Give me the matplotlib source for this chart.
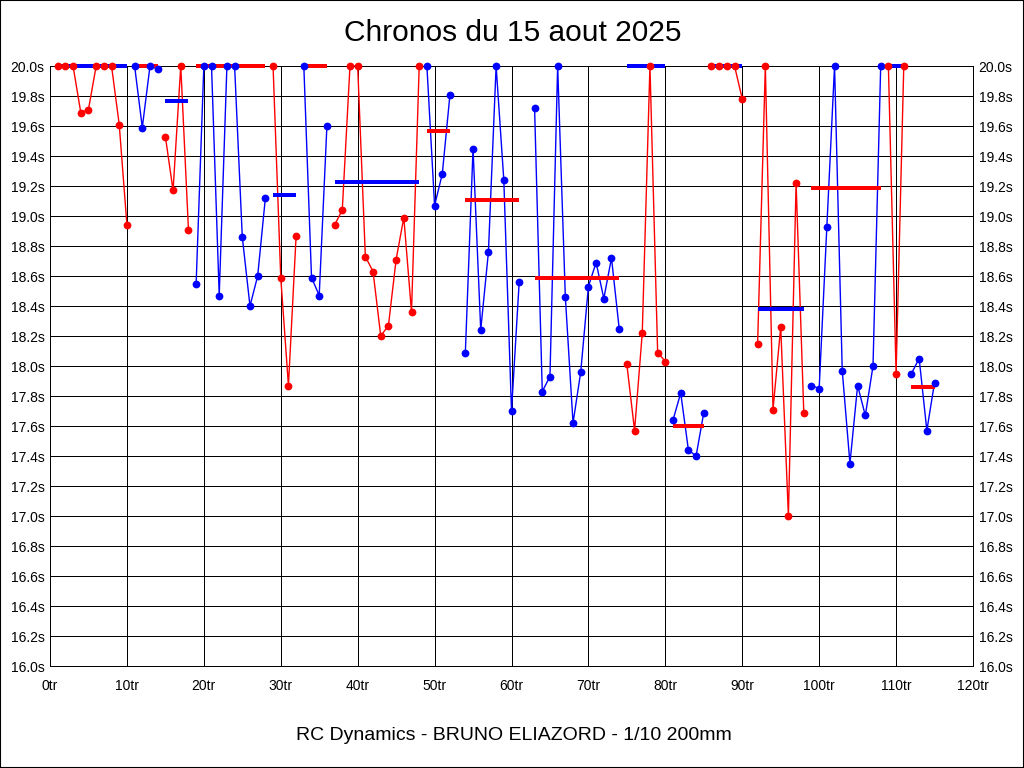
import matplotlib
matplotlib.use("Agg")
import matplotlib.pyplot as plt
from matplotlib.patches import Rectangle

plt.rcParams['font.family'] = ['Liberation Sans', 'DejaVu Sans']

# one entry per session: first lap, lap times (s, capped at 20), colour, mean line
session_start = [1, 11, 15, 19, 29, 33, 37, 49, 54, 63, 75, 81, 86, 92, 99, 109, 112]
session_times = [
    [20.0, 20.0, 20.0, 19.69, 19.71, 20.0, 20.0, 20.0, 19.61, 18.94],
    [20.0, 19.59, 20.0, 19.98],
    [19.53, 19.17, 20.0, 18.91],
    [18.55, 20.0, 20.0, 18.47, 20.0, 20.0, 18.86, 18.40, 18.60, 19.12],
    [20.0, 18.59, 17.87, 18.87],
    [20.0, 18.59, 18.47, 19.60],
    [18.94, 19.04, 20.0, 20.0, 18.73, 18.63, 18.20, 18.27, 18.71, 18.99, 18.36, 20.0],
    [20.0, 19.07, 19.28, 19.81],
    [18.09, 19.45, 18.24, 18.76, 20.0, 19.24, 17.70, 18.56],
    [19.72, 17.83, 17.93, 20.0, 18.46, 17.62, 17.96, 18.53, 18.69, 18.45, 18.72, 18.25],
    [18.01, 17.57, 18.22, 20.0, 18.09, 18.03],
    [17.64, 17.82, 17.44, 17.40, 17.69],
    [20.0, 20.0, 20.0, 20.0, 19.78],
    [18.15, 20.0, 17.71, 18.26, 17.00, 19.22, 17.69],
    [17.87, 17.85, 18.93, 20.0, 17.97, 17.35, 17.87, 17.67, 18.00, 20.0],
    [20.0, 17.95, 20.0],
    [17.95, 18.05, 17.57, 17.89],
]
session_colors = ['red', 'blue', 'red', 'blue', 'red', 'blue', 'red', 'blue', 'blue',
                  'blue', 'red', 'blue', 'red', 'red', 'blue', 'red', 'blue']
session_means = [20.0, 20.0, 19.77, 20.0, 19.14, 20.0, 19.23, 19.57, 19.11,
                 18.59, 20.0, 17.60, 20.0, 18.38, 19.19, 20.0, 17.86]

x_ticks = list(range(0, 121, 10))
y_ticks = [16.0 + 0.2 * i for i in range(21)]

fig = plt.figure(figsize=(10.24, 7.68), dpi=100, facecolor='white')
ax = fig.add_axes([50 / 1024, 1 - 666 / 768, 923 / 1024, 600 / 768])

other = {'red': 'blue', 'blue': 'red'}
for start, times, col, mean in zip(session_start, session_times, session_colors, session_means):
    laps = list(range(start, start + len(times)))
    ax.plot(laps, times, color=col, lw=1.0, zorder=2, clip_on=False)
    ax.plot([laps[0], laps[-1]], [mean, mean], color=other[col], lw=2.6,
            zorder=3, solid_capstyle='butt', antialiased=False, clip_on=False)
    ax.plot(laps, times, 'o', color=col, ms=5.6, zorder=4, markeredgewidth=0, clip_on=False)

ax.set_xlim(0, 120)
ax.set_ylim(16.0, 20.0)
ax.set_xticks(x_ticks)
ax.set_xticklabels([f"{t}tr" for t in x_ticks])
ax.set_yticks(y_ticks)
ax.set_yticklabels([f"{t:.1f}s" for t in y_ticks])
ax.tick_params(axis='both', length=0, labelsize=10, colors='black')
ax.tick_params(axis='y', labelright=True, pad=4)
ax.tick_params(axis='x', pad=9)
ax.grid(True, color='black', lw=0.72, antialiased=False)
ax.set_axisbelow(True)
for sp in ax.spines.values():
    sp.set_linewidth(0.72)
    sp.set_color('black')

fig.text(0.501, 1 - 33 / 768, "Chronos du 15 aout 2025", ha='center', va='center', fontsize=21.5)
fig.text(0.502, 1 - 735 / 768, "RC Dynamics - BRUNO ELIAZORD - 1/10 200mm",
         ha='center', va='center', fontsize=14)

fig.patches.append(Rectangle((0, 0), 1, 1, transform=fig.transFigure, fill=False,
                             edgecolor='black', lw=1.5))

fig.savefig('out.png', dpi=100, facecolor='white')
